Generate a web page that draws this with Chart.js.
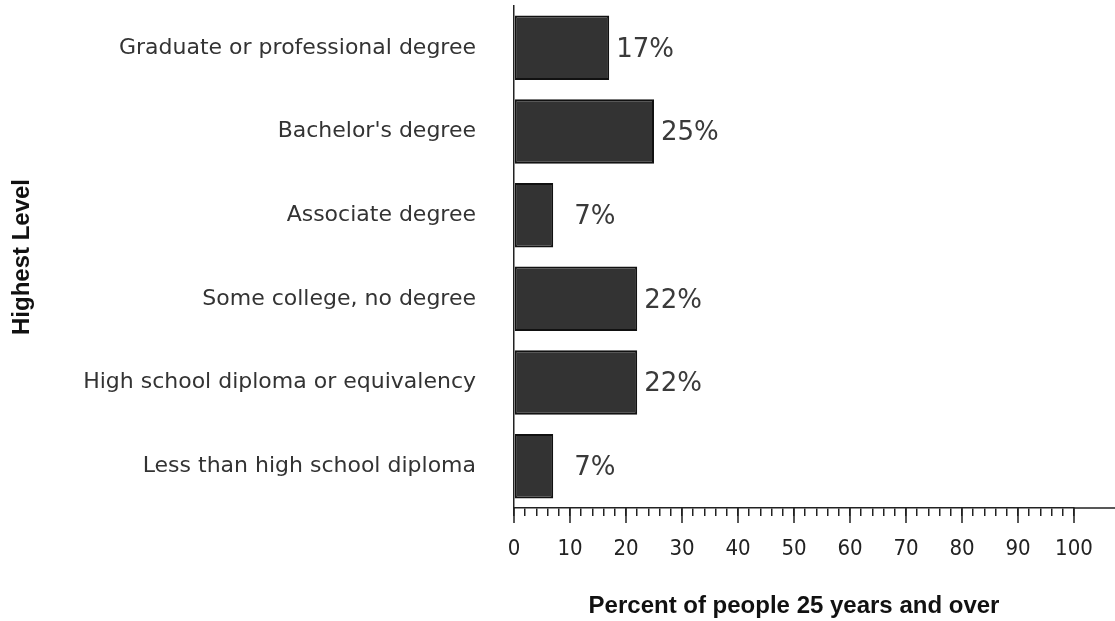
<!DOCTYPE html>
<html>
<head>
<meta charset="utf-8">
<script src="https://cdn.jsdelivr.net/npm/chart.js@4/dist/chart.umd.min.js"></script>
<style>
  html, body { margin: 0; padding: 0; background: #fff; }
  #wrap { width: 1115px; height: 621px; }
</style>
</head>
<body>
<div id="wrap"><canvas id="eduChart" width="1115" height="621"></canvas></div>
<script>
const levels = [
  'Graduate or professional degree',
  "Bachelor's degree",
  'Associate degree',
  'Some college, no degree',
  'High school diploma or equivalency',
  'Less than high school diploma',
];
const percents = [17, 25, 7, 22, 22, 7];
const xTickStep = 2;
const xLabelEvery = 10;

// value labels to the right of each bar
const valueLabels = {
  id: 'valueLabels',
  afterDatasetsDraw(chart) {
    const { ctx } = chart;
    const meta = chart.getDatasetMeta(0);
    ctx.save();
    ctx.font = '26px "DejaVu Sans"';
    ctx.fillStyle = '#3a3a3a';
    ctx.textAlign = 'left';
    ctx.textBaseline = 'middle';
    meta.data.forEach((bar, i) => {
      const v = percents[i];
      const extra = v < 10 ? 14 : 0; // single digits sit a bit further out
      ctx.fillText(v + '%', bar.x + 7 + extra, bar.y + 2);
    });
    ctx.restore();
  },
};

// longer tick marks every 10 and axis line running on to the edge
const axisExtras = {
  id: 'axisExtras',
  afterDraw(chart) {
    const { ctx, chartArea } = chart;
    const x = chart.scales.x;
    ctx.save();
    ctx.strokeStyle = '#222';
    ctx.lineWidth = 1.5;
    ctx.beginPath();
    ctx.moveTo(chartArea.right, chartArea.bottom);
    ctx.lineTo(chart.width, chartArea.bottom);
    x.ticks.forEach((t) => {
      if (t.value % xLabelEvery === 0) {
        const px = x.getPixelForValue(t.value);
        ctx.moveTo(px, chartArea.bottom);
        ctx.lineTo(px, chartArea.bottom + 15);
      }
    });
    ctx.stroke();
    ctx.restore();
  },
};

new Chart(document.getElementById('eduChart'), {
  type: 'bar',
  data: {
    labels: levels,
    datasets: [{
      data: percents,
      backgroundColor: '#333',
      borderColor: '#111',
      borderWidth: 2,
      borderSkipped: false,
      barPercentage: 0.77,
      categoryPercentage: 1,
    }],
  },
  options: {
    indexAxis: 'y',
    responsive: false,
    animation: false,
    devicePixelRatio: 1,
    layout: { padding: { top: 6, right: 41, left: 0, bottom: 0 } },
    scales: {
      x: {
        min: 0,
        max: 100,
        afterBuildTicks(scale) {
          const t = [];
          for (let v = 0; v <= 100; v += xTickStep) t.push({ value: v });
          scale.ticks = t;
        },
        afterFit(scale) { scale.height = 113; },
        grid: {
          drawOnChartArea: false,
          drawTicks: true,
          tickLength: 8,
          color: '#222',
          lineWidth: 1.5,
        },
        border: { display: true, color: '#222', width: 1.5 },
        ticks: {
          autoSkip: false,
          maxRotation: 0,
          padding: 20,
          color: '#222',
          font: { family: '"Liberation Sans Narrow", "DejaVu Sans Condensed", sans-serif', size: 22 },
          callback: (v) => (v % xLabelEvery === 0 ? String(v) : ''),
        },
        title: {
          display: true,
          text: 'Percent of people 25 years and over',
          color: '#111',
          font: { family: '"Liberation Sans", Arial', size: 24, weight: 'bold' },
          padding: { top: 0, bottom: 0 },
        },
      },
      y: {
        afterFit(scale) {
          scale.width = 514;
          // keep the long label padding from pushing the plot down
          scale.paddingTop = 0;
          scale.paddingBottom = 0;
        },
        grid: { display: false, drawTicks: false },
        border: { display: true, color: '#222', width: 1.5 },
        ticks: {
          padding: 38,
          color: '#333',
          font: { family: '"DejaVu Sans"', size: 22 },
        },
        title: {
          display: true,
          text: 'Highest Level',
          color: '#111',
          font: { family: '"Liberation Sans", Arial', size: 24, weight: 'bold' },
          padding: { top: 8, bottom: 0 },
        },
      },
    },
    plugins: {
      legend: { display: false },
      tooltip: { enabled: false },
    },
  },
  plugins: [valueLabels, axisExtras],
});
</script>
</body>
</html>
